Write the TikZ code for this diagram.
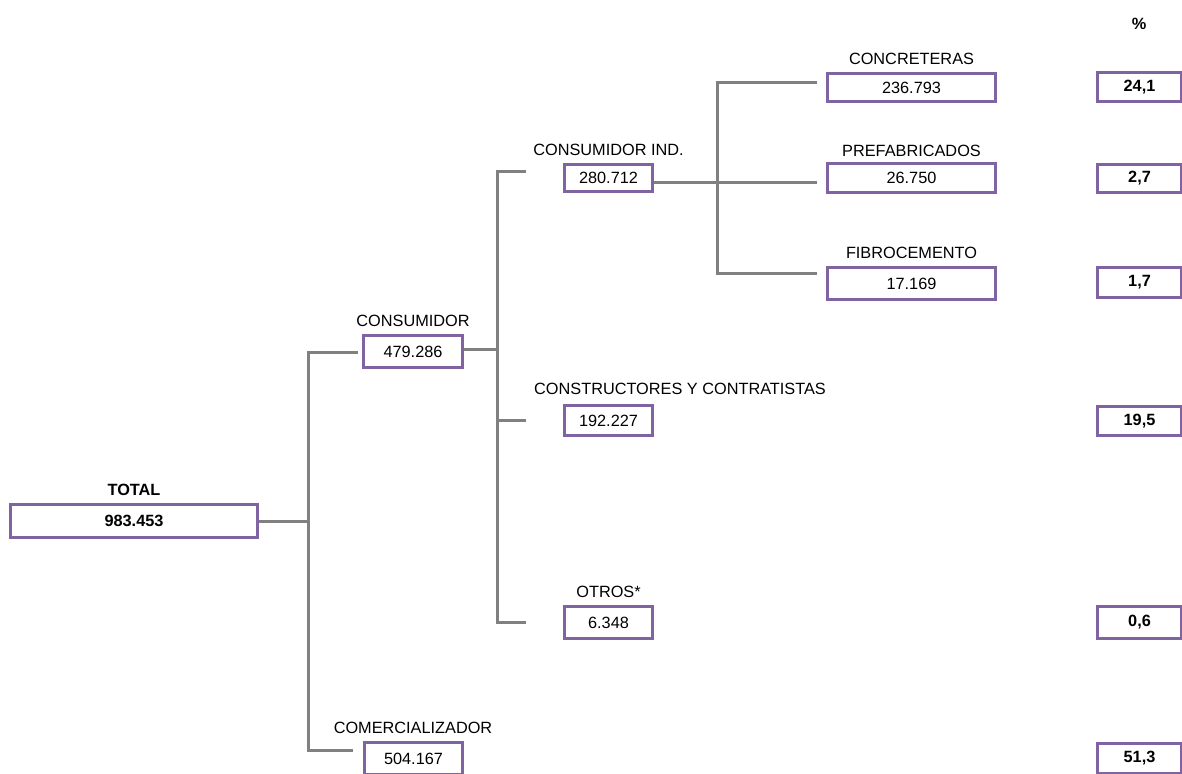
\documentclass[tikz,border=0pt]{standalone}
\usepackage{fontspec}
\setmainfont{Liberation Sans}
\definecolor{boxpurple}{RGB}{128,100,162}
\definecolor{linegrey}{RGB}{128,128,128}
\newcommand{\valfont}{\fontsize{16.3}{18}\selectfont}
\begin{document}
\begin{tikzpicture}[x=1pt,y=-1pt,
  valbox/.style={draw=boxpurple, line width=3pt, inner sep=0pt, font=\valfont},
  boldbox/.style={valbox, font=\valfont\bfseries},
  lbl/.style={inner sep=0pt, font=\valfont},
  boldlbl/.style={inner sep=0pt, font=\valfont\bfseries},
  conn/.style={draw=linegrey, line width=3pt}]
\useasboundingbox (0,0) rectangle (1182,773);

% boxes
\node[boldbox, minimum width=247pt, minimum height=33pt] (total) at (134,521) {983.453};
\node[valbox, minimum width=99pt, minimum height=32pt] (cons) at (413,351.5) {479.286};
\node[valbox, minimum width=98pt, minimum height=32pt] (comer) at (413.5,758.5) {504.167};
\node[valbox, minimum width=88pt, minimum height=27.5pt] (ind) at (608.5,178) {280.712};
\node[valbox, minimum width=88pt, minimum height=30pt] (constr) at (608.5,420.5) {192.227};
\node[valbox, minimum width=88pt, minimum height=32pt] (otros) at (608.5,622.5) {6.348};
\node[valbox, minimum width=168pt, minimum height=28pt] (conc) at (911.5,87.5) {236.793};
\node[valbox, minimum width=168pt, minimum height=29pt] (pref) at (911.5,178) {26.750};
\node[valbox, minimum width=168pt, minimum height=32pt] (fib) at (911.5,283.5) {17.169};

% percentage boxes
\node[boldbox, minimum width=84pt, minimum height=29pt] (p1) at (1139.5,87) {24,1};
\node[boldbox, minimum width=84pt, minimum height=28pt] (p2) at (1139.5,178.5) {2,7};
\node[boldbox, minimum width=84pt, minimum height=30pt] (p3) at (1139.5,282.5) {1,7};
\node[boldbox, minimum width=84pt, minimum height=29pt] (p4) at (1139.5,421) {19,5};
\node[boldbox, minimum width=84pt, minimum height=32pt] (p5) at (1139.5,622.5) {0,6};
\node[boldbox, minimum width=84pt, minimum height=30pt] (p6) at (1139.5,758.5) {51,3};

% labels
\node[boldlbl] (pct) at (1139,24) {\%};
\node[boldlbl] (totall) at (134,490) {TOTAL};
\node[lbl] (consl) at (413,321) {CONSUMIDOR};
\node[lbl] (comerl) at (413,728) {COMERCIALIZADOR};
\node[lbl] (indl) at (608.5,150) {CONSUMIDOR IND.};
\node[lbl, anchor=west] (constrl) at (534,389) {CONSTRUCTORES Y CONTRATISTAS};
\node[lbl] (otrosl) at (608.5,592) {OTROS*};
\node[lbl] (concl) at (911.5,59) {CONCRETERAS};
\node[lbl] (prefl) at (911.5,151) {PREFABRICADOS};
\node[lbl] (fibl) at (911.5,253) {FIBROCEMENTO};

% connectors level 1
\coordinate (a1) at (308,352);
\coordinate (a2) at (308,750);
\coordinate (consin) at (358,352);
\coordinate (comin) at (353,750);
\draw[conn] (total.east) -- (total.east -| a1);
\draw[conn] (consin) -- (a1) -- (a2) -- (comin);

% connectors level 2
\coordinate (b1) at (497,171);
\coordinate (b2) at (497,622);
\coordinate (indin) at (526,171);
\coordinate (otin) at (526,622);
\coordinate (ccin) at (526,420);
\draw[conn] ([yshift=2.5pt]cons.east) -- ([yshift=2.5pt]cons.east -| b1);
\draw[conn] (indin) -- (b1) -- (b2) -- (otin);
\draw[conn] (ccin) -- (ccin -| b1);

% connectors level 3
\coordinate (c1) at (717,83);
\coordinate (c2) at (717,273);
\coordinate (concin) at (817,83);
\coordinate (fibin) at (817,273);
\coordinate (prefin) at (817,182);
\draw[conn] (concin) -- (c1) -- (c2) -- (fibin);
\draw[conn] ([yshift=-4pt]ind.east) -- (prefin);
\end{tikzpicture}
\end{document}
